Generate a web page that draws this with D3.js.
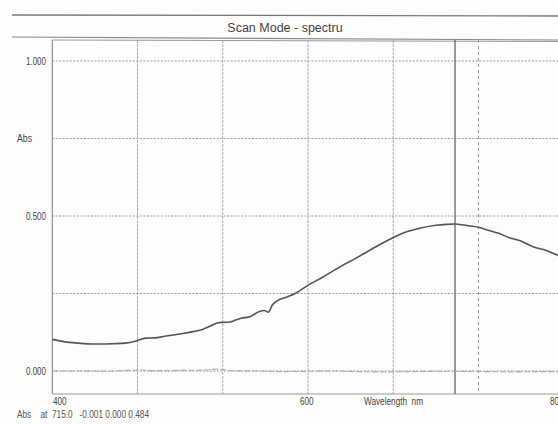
<!DOCTYPE html>
<html>
<head>
<meta charset="utf-8">
<script src="https://cdn.jsdelivr.net/npm/d3@7/dist/d3.min.js"></script>
<style>
  html, body { margin: 0; padding: 0; background: #fdfdfc; overflow: hidden; }
  svg { display: block; }
</style>
</head>
<body>
<svg id="chart" width="558" height="424"></svg>
<script>
// ---- data ----
const title = "Scan Mode - spectru";
const wavelength = [400,410,420,431,440,447,457,465,473,480,488,496,502,510,518,524,529,534,539,544,548,555,562,566,569,572,575,583,590,599,612,625,638,651,664,677,688,700,708,715,722,727,734,740,749,757,766,776,787,795,800];
const absorbance = [0.102,0.094,0.090,0.087,0.087,0.088,0.090,0.096,0.106,0.107,0.112,0.117,0.121,0.127,0.135,0.146,0.155,0.157,0.158,0.165,0.170,0.176,0.192,0.195,0.190,0.212,0.224,0.238,0.250,0.274,0.304,0.336,0.365,0.396,0.425,0.449,0.461,0.470,0.473,0.474,0.471,0.468,0.463,0.455,0.444,0.431,0.420,0.401,0.388,0.374,0.366];
const baseWavelength = [400,420,440,460,470,480,500,520,530,535,540,560,580,600,620,640,660,680,700,720,740,760,780,800];
const baseline = [0,0,-0.001,0.002,0.003,0.001,0.002,0.003,0.006,0.004,0.001,0,-0.002,-0.001,0,-0.002,-0.003,-0.002,-0.001,-0.001,-0.002,-0.003,-0.002,-0.002];
const yGridValues = [0, 0.25, 0.5, 0.75, 1.0];
const yTickLabels = [[1.0, "1.000"], [0.5, "0.500"], [0.0, "0.000"]];
const xGridValues = [466.67, 533.33, 600, 666.67];
const xDashedGrid = [733.33];
const cursorNm = 715;
const xTickLabels = [[400, "400"], [600, "600"], [800, "800"]];
const readout = "Abs    at  715.0   -0.001 0.000 0.484";

// ---- scales ----
const x = d3.scaleLinear().domain([400, 800]).range([52.3, 563.7]);
const y = d3.scaleLinear().domain([0, 1]).range([371, 61]);
const boxTop = 40, boxBottom = 394;

const svg = d3.select("#chart");
const sans = "'Liberation Sans', Arial, sans-serif";

// condensed text helper: forces a given width like the narrow printer font
function ctext(sel, str, xx, yy, w, size, anchor, fill) {
  return sel.append("text").attr("x", xx).attr("y", yy)
    .attr("font-family", sans).attr("font-size", size || 10)
    .attr("fill", fill || "#444")
    .attr("text-anchor", anchor || "start")
    .attr("xml:space", "preserve")
    .attr("textLength", w).attr("lengthAdjust", "spacingAndGlyphs")
    .text(str);
}

// header lines + title
svg.append("line").attr("x1", 12).attr("x2", 558).attr("y1", 15).attr("y2", 16)
  .attr("stroke", "#777").attr("stroke-width", 1.3);
svg.append("line").attr("x1", 12).attr("x2", 558).attr("y1", 37).attr("y2", 40)
  .attr("stroke", "#888").attr("stroke-width", 1.2);
svg.append("text").attr("x", 285).attr("y", 32).attr("text-anchor", "middle")
  .attr("font-family", sans).attr("font-size", 12.5).attr("fill", "#444").text(title);

// plot box
const g = svg.append("g");
g.append("line").attr("x1", x(400)).attr("x2", x(400)).attr("y1", boxTop).attr("y2", boxBottom)
  .attr("stroke", "#777").attr("stroke-width", 1);
g.append("line").attr("x1", x(400)).attr("x2", 558).attr("y1", boxTop).attr("y2", boxTop + 1.5)
  .attr("stroke", "#999").attr("stroke-width", 1);
g.append("line").attr("x1", x(400)).attr("x2", 558).attr("y1", boxBottom).attr("y2", boxBottom)
  .attr("stroke", "#999").attr("stroke-width", 1);

// horizontal grid
g.selectAll(".hg").data(yGridValues).enter().append("line")
  .attr("x1", x(400)).attr("x2", 558)
  .attr("y1", d => y(d)).attr("y2", d => y(d))
  .attr("stroke", "#999").attr("stroke-width", 1).attr("stroke-dasharray", "2,1.5");

// vertical grid
g.selectAll(".vg").data(xGridValues).enter().append("line")
  .attr("x1", d => x(d)).attr("x2", d => x(d))
  .attr("y1", boxTop).attr("y2", boxBottom)
  .attr("stroke", "#aaa").attr("stroke-width", 1).attr("stroke-dasharray", "3,1");
g.selectAll(".vd").data(xDashedGrid).enter().append("line")
  .attr("x1", d => x(d)).attr("x2", d => x(d))
  .attr("y1", boxTop).attr("y2", boxBottom)
  .attr("stroke", "#999").attr("stroke-width", 1).attr("stroke-dasharray", "3,3");
// cursor
g.append("line").attr("x1", x(cursorNm)).attr("x2", x(cursorNm))
  .attr("y1", boxTop).attr("y2", boxBottom)
  .attr("stroke", "#666").attr("stroke-width", 1.3);

// baseline trace
const line = d3.line().x(d => x(d[0])).y(d => y(d[1])).curve(d3.curveMonotoneX);
g.append("path").datum(d3.zip(baseWavelength, baseline)).attr("d", line)
  .attr("fill", "none").attr("stroke", "#aaa").attr("stroke-width", 1.1)
  .attr("stroke-dasharray", "6,2");

// spectrum trace
g.append("path").datum(d3.zip(wavelength, absorbance)).attr("d", line)
  .attr("fill", "none").attr("stroke", "#555").attr("stroke-width", 1.6)
  .attr("stroke-linejoin", "round");

// y labels
yTickLabels.forEach(d => ctext(svg, d[1], 46, y(d[0]) + 3.5, 20, 10, "end"));
ctext(svg, "Abs", 17, y(0.75) + 3.5, 15, 10);

// x labels
const xLabelPos = { 400: 53, 600: 300, 800: 550 };
xTickLabels.forEach(d => ctext(svg, d[1], xLabelPos[d[0]], 405, 13.5, 10));
ctext(svg, "Wavelength  nm", 364, 405, 59, 10);

// readout line
ctext(svg, readout, 17, 418, 132, 10, "start", "#555");
</script>
</body>
</html>
